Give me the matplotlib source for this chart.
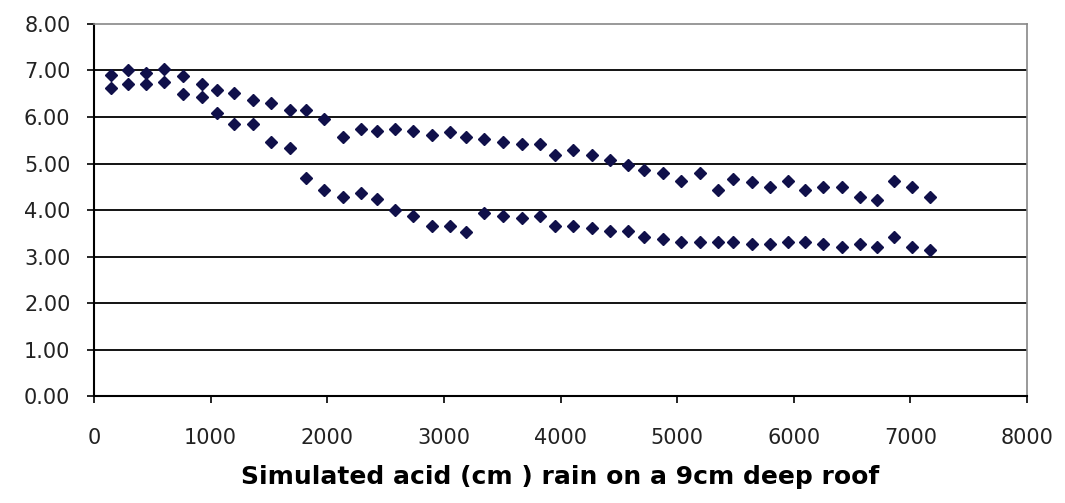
import matplotlib.pyplot as plt

# rain applied (cm) and the two readings taken at each step
rain = [146, 294, 446, 600, 766, 923, 1052, 1203, 1361, 1518,
        1681, 1818, 1975, 2133, 2290, 2424, 2581, 2739, 2896, 3053,
        3190, 3347, 3510, 3668, 3825, 3954, 4111, 4268, 4425, 4582,
        4720, 4877, 5034, 5192, 5349, 5483, 5640, 5798, 5955, 6098,
        6255, 6412, 6570, 6713, 6856, 7013, 7170]
upper = [6.90, 7.01, 6.94, 7.03, 6.88, 6.70, 6.58, 6.52, 6.37, 6.31,
         6.15, 6.15, 5.96, 5.58, 5.74, 5.70, 5.74, 5.69, 5.62, 5.68,
         5.58, 5.52, 5.47, 5.41, 5.43, 5.19, 5.30, 5.18, 5.08, 4.97,
         4.85, 4.79, 4.62, 4.79, 4.44, 4.67, 4.61, 4.49, 4.62, 4.44,
         4.50, 4.50, 4.27, 4.22, 4.62, 4.50, 4.27]
lower = [6.63, 6.70, 6.70, 6.76, 6.49, 6.42, 6.09, 5.86, 5.86, 5.46,
         5.34, 4.68, 4.44, 4.29, 4.37, 4.23, 4.00, 3.88, 3.66, 3.66,
         3.53, 3.93, 3.88, 3.82, 3.88, 3.66, 3.66, 3.61, 3.55, 3.55,
         3.43, 3.37, 3.32, 3.32, 3.32, 3.32, 3.26, 3.26, 3.32, 3.32,
         3.26, 3.21, 3.26, 3.21, 3.43, 3.21, 3.13]

xticks = [0, 1000, 2000, 3000, 4000, 5000, 6000, 7000, 8000]
yticks = [0, 1, 2, 3, 4, 5, 6, 7, 8]

fig = plt.figure(figsize=(10.65, 5.03), dpi=100)
ax = fig.add_axes([0.0883, 0.2127, 0.8760, 0.7396])

for y in yticks[1:-1]:
    ax.axhline(y, color='black', lw=1.3, zorder=1)

mk = '#10104a'
ax.plot(rain, upper, 'D', ms=6.5, color=mk, mec=mk, zorder=3)
ax.plot(rain, lower, 'D', ms=6.5, color=mk, mec=mk, zorder=3)

ax.set_xlim(0, 8000)
ax.set_ylim(0, 8)
ax.set_xticks(xticks)
ax.set_yticks(yticks)
ax.set_yticklabels([f'{v:.2f}' for v in yticks])

ax.spines['left'].set_color('black')
ax.spines['left'].set_linewidth(1.5)
ax.spines['bottom'].set_color('black')
ax.spines['bottom'].set_linewidth(1.5)
ax.spines['top'].set_color('#888888')
ax.spines['right'].set_color('#888888')
ax.spines['top'].set_linewidth(1.2)
ax.spines['right'].set_linewidth(1.2)

ax.tick_params(axis='both', direction='out', length=5, width=1.2, color='black',
               labelsize=15, labelcolor='#222222')
ax.tick_params(axis='y', pad=12)
ax.tick_params(axis='x', pad=18)

ax.set_xlabel('Simulated acid (cm ) rain on a 9cm deep roof',
              fontsize=18, fontweight='bold', labelpad=12)

fig.savefig('out.png', dpi=100)
